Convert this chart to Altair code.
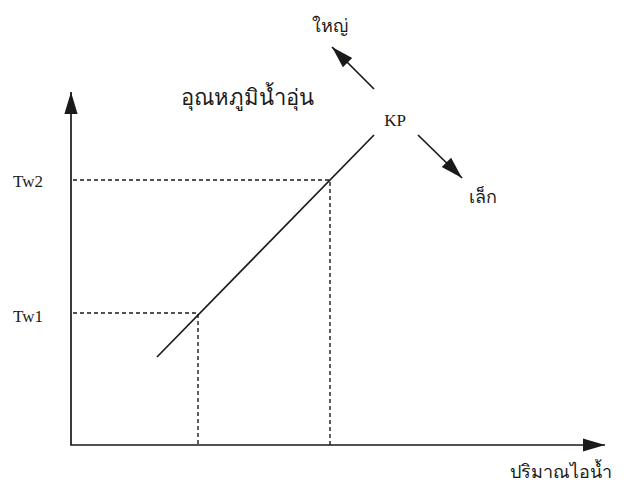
import altair as alt
import pandas as pd

# Coordinate frame: origin at the axes corner (units roughly screen pixels)
axis_x = [0, 0, 534]
axis_y = [353, 0, 0]
kp_x = [86, 303]
kp_y = [88, 310]
big_x = [303, 261]
big_y = [356, 398]
small_x = [347, 391]
small_y = [310, 267]
tw2_x = [2, 259, 259]
tw2_y = [265, 265, 0]
tw1_x = [2, 127, 127]
tw1_y = [132, 132, 0]
head_x = [0, 534, 261, 391]
head_y = [353, 0, 398, 267]
head_angle = [0, 90, 315, 135]

latin_text = ["Tw2", "Tw1", "KP"]
latin_x = [-43, -43, 324]
latin_y = [258, 123, 319]

title_text = ["อุณหภูมิน้ำอุ่น"]
title_x = [176]
title_y = [340]

thai_text = ["ใหญ่", "เล็ก", "ปริมาณไอน้ำ"]
thai_x = [259, 412, 490]
thai_y = [413, 242, -33]

INK = "#1a1a1a"


def poly(name, xs, ys):
    return pd.DataFrame({"seg": name, "i": range(len(xs)), "x": xs, "y": ys})


solid = pd.concat([
    poly("axis", axis_x, axis_y),
    poly("kp", kp_x, kp_y),
    poly("big", big_x, big_y),
    poly("small", small_x, small_y),
])
dashed = pd.concat([poly("tw2", tw2_x, tw2_y), poly("tw1", tw1_x, tw1_y)])
heads = pd.DataFrame({"x": head_x, "y": head_y, "a": head_angle})
latin = pd.DataFrame({"t": latin_text, "x": latin_x, "y": latin_y})
title = pd.DataFrame({"t": title_text, "x": title_x, "y": title_y})
thai = pd.DataFrame({"t": thai_text, "x": thai_x, "y": thai_y})

xs = alt.Scale(domain=[-63, 545], nice=False, zero=False)
ys = alt.Scale(domain=[-40, 437], nice=False, zero=False)
X = alt.X("x:Q", scale=xs, axis=None)
Y = alt.Y("y:Q", scale=ys, axis=None)

solid_layer = alt.Chart(solid).mark_line(color=INK, strokeWidth=1.7).encode(
    x=X, y=Y, detail="seg:N", order="i:Q")
dash_layer = alt.Chart(dashed).mark_line(color=INK, strokeWidth=1.4, strokeDash=[4, 3]).encode(
    x=X, y=Y, detail="seg:N", order="i:Q")
head_layer = alt.Chart(heads).mark_point(
    shape="M0,0L0.3,1L-0.3,1Z", size=1936, filled=True, color=INK, opacity=1, strokeWidth=0
).encode(x=X, y=Y, angle=alt.Angle("a:Q", scale=None))
latin_layer = alt.Chart(latin).mark_text(
    font="Liberation Serif", fontSize=17, color=INK, align="center", baseline="alphabetic"
).encode(x=X, y=Y, text="t:N")
title_layer = alt.Chart(title).mark_text(
    font="Liberation Serif", fontSize=22, color=INK, align="center", baseline="alphabetic"
).encode(x=X, y=Y, text="t:N")
thai_layer = alt.Chart(thai).mark_text(
    font="Liberation Serif", fontSize=18, color=INK, align="center", baseline="alphabetic"
).encode(x=X, y=Y, text="t:N")

chart = alt.layer(solid_layer, dash_layer, head_layer, latin_layer, title_layer, thai_layer).properties(
    width=608, height=477, padding=0,
    autosize=alt.AutoSizeParams(type="none"),
    background="white",
).configure_view(stroke=None)

chart.save("out.html", embed_options={"renderer": "svg", "actions": False})
